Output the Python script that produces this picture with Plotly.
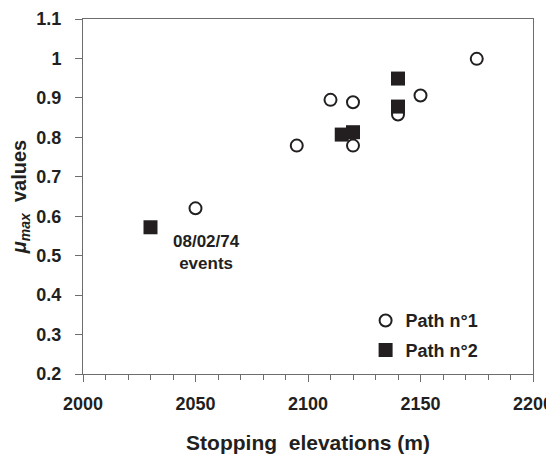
import plotly.graph_objects as go

# Path n°1 (open circles)
path1_elev = [2050, 2095, 2110, 2120, 2120, 2140, 2150, 2175]
path1_mu = [0.62, 0.779, 0.895, 0.889, 0.779, 0.858, 0.906, 0.999]

# Path n°2 (filled squares)
path2_elev = [2030, 2115, 2120, 2140, 2140]
path2_mu = [0.572, 0.807, 0.813, 0.949, 0.878]

x_ticks = [2000, 2050, 2100, 2150, 2200]
y_ticks = [0.2, 0.3, 0.4, 0.5, 0.6, 0.7, 0.8, 0.9, 1.0, 1.1]
y_ticktext = ["0.2", "0.3", "0.4", "0.5", "0.6", "0.7", "0.8", "0.9", "1", "1.1"]

INK = "#231f20"
AXIS = "#6d6d6d"
FONT = "Liberation Sans"

fig = go.Figure()
fig.add_trace(go.Scatter(
    x=path1_elev, y=path1_mu, mode="markers", name="Path n°1",
    marker=dict(symbol="circle-open", size=12, color=INK, line=dict(width=2, color=INK)),
    legend="legend",
))
fig.add_trace(go.Scatter(
    x=path2_elev, y=path2_mu, mode="markers", name="Path n°2",
    marker=dict(symbol="square", size=14, color=INK, line=dict(width=0)),
    legend="legend2",
))

fig.add_annotation(x=2055, y=0.509, text="08/02/74<br>events", showarrow=False,
                   font=dict(family=FONT, size=17, color=INK, weight="bold"))

axis_common = dict(showline=True, linecolor=AXIS, linewidth=1, mirror=True,
                   showgrid=False, zeroline=False, ticks="outside", tickcolor=AXIS,
                   automargin=False, ticklabeloverflow="allow",
                   tickfont=dict(family=FONT, size=18, color=INK, weight="bold"))

fig.update_xaxes(range=[2000, 2200], tickvals=x_ticks, ticklen=7,
                 ticklabelstandoff=6,
                 minor=dict(dtick=10, ticks="outside", ticklen=5, tickcolor=AXIS),
                 title=dict(text="Stopping\u00a0 elevations (m)", standoff=22,
                            font=dict(family=FONT, size=21, color=INK, weight="bold")),
                 **axis_common)
fig.update_yaxes(range=[0.2, 1.1], tickvals=y_ticks, ticktext=y_ticktext, ticklen=7,
                 ticklabelstandoff=10,
                 title=dict(text="<i>μ<sub>max</sub></i>\u00a0 values", standoff=12,
                            font=dict(family=FONT, size=20, color=INK, weight="bold")),
                 **axis_common)

legend_font = dict(family=FONT, size=18, color=INK, weight="bold")
# page body adds an 8 px offset, so the figure is 8 px smaller on each side
fig.update_layout(
    width=546, height=446,
    margin=dict(l=75, r=21, t=11, b=80, autoexpand=False),
    paper_bgcolor="white", plot_bgcolor="white",
    showlegend=True,
    legend=dict(x=0.628, y=0.15, xanchor="left", yanchor="middle", font=legend_font,
                bgcolor="rgba(0,0,0,0)", itemwidth=30, borderwidth=0),
    legend2=dict(x=0.628, y=0.067, xanchor="left", yanchor="middle", font=legend_font,
                 bgcolor="rgba(0,0,0,0)", itemwidth=30, borderwidth=0),
)

fig.write_html("out.html")
